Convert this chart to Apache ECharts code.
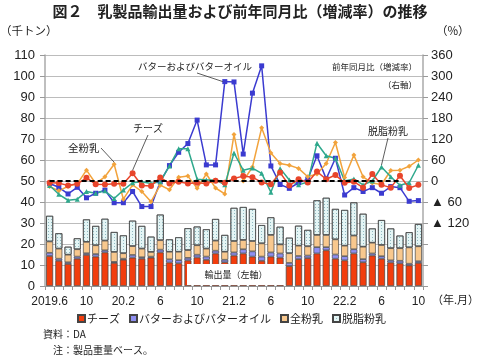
<!DOCTYPE html>
<html><head><meta charset="utf-8">
<script src="https://cdn.jsdelivr.net/npm/echarts@6/dist/echarts.min.js"></script>
<style>html,body{margin:0;padding:0;background:#fff}#c{width:480px;height:356px}</style>
</head><body><div id="c"></div>
<script>
const months = ['2019.6','2019.7','2019.8','2019.9','2019.10','2019.11','2019.12',
'2020.1','2020.2','2020.3','2020.4','2020.5','2020.6','2020.7','2020.8','2020.9','2020.10','2020.11','2020.12',
'2021.1','2021.2','2021.3','2021.4','2021.5','2021.6','2021.7','2021.8','2021.9','2021.10','2021.11','2021.12',
'2022.1','2022.2','2022.3','2022.4','2022.5','2022.6','2022.7','2022.8','2022.9','2022.10'];
const tickLabels = {'2019.6':'2019.6','2019.10':'10','2020.2':'20.2','2020.6':'6','2020.10':'10','2021.2':'21.2','2021.6':'6','2021.10':'10','2022.2':'22.2','2022.6':'6','2022.10':'10'};
const leftTicks = {min:0, max:110, step:10};
const rightTicks = {min:-300, max:360, step:60, shownMin:-120};

// export volume (thousand tons)
const cheeseVol = [14.3,12,10.5,13,14.8,14,16,11,12.5,13.5,13,13.5,16,11.2,10.8,12.2,13.6,12.5,15.5,11.3,14.5,15.5,14,12,14,13.5,9.5,12.8,13.3,15.5,17,13,12.2,15.5,11.3,14.5,13,11.2,10.8,9.8,11];
const butterVol = [1.5,1,0.8,1,0.8,1.2,1,0.5,0.5,1.3,0.7,0.5,1.3,1.5,1.5,1.2,1.3,1.5,1.3,1.2,1.5,2,2.5,2,2,2,1.5,1.5,1.2,3,1.5,2,2,2,1.5,1,1.2,1,1.2,0.8,0.8];
const wmpVol = [5.4,4.8,3.6,3.5,5.4,4.2,4.6,4.7,2.6,4.2,4.1,2.2,4.5,3.6,4,3.7,4.5,3.8,4.8,3.8,5.4,4.4,4.9,6.3,8.3,4.3,4.6,4.9,4.4,5.8,5.8,7.2,5,6.5,5.9,5.1,5.3,5.8,6,7.8,7.1];
const smpVol = [12.2,7.3,3.8,5.2,10.7,9.2,10.4,9.5,8.5,12.1,10.8,7.3,12.2,5.9,6.9,10.4,8.9,9.2,10.3,8,15.8,15.7,15.3,8.7,8.4,8.4,7.4,9.5,7.8,16.5,17.7,14.5,17,15.8,15.7,6.8,11.9,9.4,6,7.2,10.6];

// year-on-year change (%)
const cheeseYoY = [-5,-6,-13,-8,9,-9,-10,-8,-8,22,-13,-14,10,-7,-2,-7,-5,-7,1,-5,7,14,11,-4,-9,24,-13,5,-4,27,5,17,-5,-2,-19,20,-11,-19,15,-20,-11];
const butterYoY = [-7,-18,-37,-18,-48,-35,-26,-62,-62,-30,-73,-73,-2,44,82,107,174,46,46,284,283,77,251,329,43,-10,-21,-5,5,72,6,65,-40,-19,-30,-19,-35,-16,-19,-58,-56];
const wmpYoY = [-16,-28,-15,-8,31,-7,12,48,-52,-11,-30,-59,-12,-25,11,14,-21,20,-20,-37,133,0,40,152,80,50,45,36,12,20,50,110,10,74,12,-6,-10,30,31,42,60];
const smpYoY = [-13,-38,-55,-52,-30,-35,-28,-50,-26,-5,-2,-7,-2,43,92,92,5,3,3,-11,80,31,37,22,-32,36,3,-11,-3,108,72,65,0,6,-11,0,40,12,-12,-5,45];
const zeroLine = {from:'2019.6', to:'2022.8', value:0};

const names = ['チーズ','バターおよびバターオイル','全粉乳','脱脂粉乳'];
const JP = '"Noto Sans CJK JP", sans-serif';
const NUM = '"Liberation Sans", Arial, sans-serif';

const chart = echarts.init(document.getElementById('c'), null, {renderer:'canvas'});
const barBorder = {borderColor:'#444', borderWidth:0.7};
const option = {
  animation:false,
  backgroundColor:'#fff',
  grid:{left:45, right:57, top:55, bottom:70},
  legend:{
    data:names, left:72, top:308, icon:'rect', itemWidth:7, itemHeight:7, itemGap:9,
    textStyle:{fontFamily:JP, fontSize:11, color:'#222', padding:[0,0,0,-3]}
  },
  xAxis:{
    type:'category', data:months, boundaryGap:true,
    axisLine:{lineStyle:{color:'#999', width:1}},
    axisTick:{show:true, interval:0, length:4, lineStyle:{color:'#999'}},
    axisLabel:{interval:0, formatter:v=>tickLabels[v]||'', fontFamily:NUM, fontSize:12, color:'#222', margin:10}
  },
  yAxis:[{
    type:'value', min:leftTicks.min, max:leftTicks.max, interval:leftTicks.step,
    axisLine:{show:true, lineStyle:{color:'#aaa', width:1.5}},
    axisTick:{show:true, length:5, lineStyle:{color:'#999'}},
    splitLine:{lineStyle:{color:'#bcbcbc', width:1}},
    axisLabel:{fontFamily:NUM, fontSize:13, color:'#222', margin:10}
  },{
    type:'value', min:rightTicks.min, max:rightTicks.max, interval:rightTicks.step, position:'right',
    axisLine:{show:true, lineStyle:{color:'#aaa', width:1.5}},
    axisTick:{show:true, length:5, lineStyle:{color:'#999'}},
    splitLine:{show:false},
    axisLabel:{fontFamily:NUM, fontSize:13, color:'#222', margin:8,
      formatter:v=> v < rightTicks.shownMin ? '' : (v<0 ? '▲ '+(-v) : String(v))}
  }],
  series:[
    {name:names[0], type:'bar', stack:'vol', barWidth:7, data:cheeseVol, itemStyle:Object.assign({color:'#f23d0d'},barBorder)},
    {name:names[1], type:'bar', stack:'vol', barWidth:7, data:butterVol, itemStyle:Object.assign({color:'#8f8ff2'},barBorder)},
    {name:names[2], type:'bar', stack:'vol', barWidth:7, data:wmpVol, itemStyle:Object.assign({color:'#f8c88e'},barBorder)},
    {name:names[3], type:'bar', stack:'vol', barWidth:7, data:smpVol, itemStyle:Object.assign({color:'#e4f5f5',
      decal:{symbol:'rect', symbolSize:1, color:'#8fb8c0', dashArrayX:[1,2], dashArrayY:[1,2]}},barBorder)},
    {name:names[1], type:'line', yAxisIndex:1, data:butterYoY, symbol:'rect', symbolSize:5,
      lineStyle:{color:'#3b3bd0', width:1.5}, itemStyle:{color:'#3b3bd0'}, z:5},
    {name:names[2], type:'line', yAxisIndex:1, data:wmpYoY, symbol:'diamond', symbolSize:5,
      lineStyle:{color:'#f2a33c', width:1.5}, itemStyle:{color:'#f2a33c'}, z:5},
    {name:names[3], type:'line', yAxisIndex:1, data:smpYoY, symbol:'triangle', symbolSize:5,
      lineStyle:{color:'#2ea88c', width:1.5}, itemStyle:{color:'#2ea88c'}, z:5},
    {name:names[0], type:'line', yAxisIndex:1, data:cheeseYoY, symbol:'circle', symbolSize:6,
      lineStyle:{color:'#e8452b', width:1.5}, itemStyle:{color:'#e8452b'}, z:6,
      markLine:{silent:true, symbol:['none','none'], label:{show:false}, z:10,
        lineStyle:{color:'#000', width:2, type:[5,3]},
        data:[[{coord:[zeroLine.from, zeroLine.value]},{coord:[zeroLine.to, zeroLine.value]}]]}}
  ]
};
chart.setOption(option);

function px(cat, v){ return chart.convertToPixel({xAxisIndex:0, yAxisIndex:1}, [cat, v]); }
const pB = px('2021.1', butterYoY[19]);
const pC = px('2020.3', cheeseYoY[9]);
const pW = px('2020.1', wmpYoY[7]);
const pS = px('2022.6', smpYoY[36]);
const txt = (x,y,t,fs,extra)=>Object.assign({type:'text', x:x, y:y, z:20, style:Object.assign({text:t, fontFamily:JP, fontSize:fs, fill:'#222', textVerticalAlign:'middle'}, extra||{})});
const ln = (x1,y1,x2,y2)=>({type:'line', z:20, shape:{x1,y1,x2,y2}, style:{stroke:'#333', lineWidth:0.8}});
chart.setOption({graphic:[
  txt(240,11,'図２　乳製品輸出量および前年同月比（増減率）の推移',15,{textAlign:'center', fontWeight:'bold'}),
  txt(0,31,'（千トン）',11.5),
  txt(436,31,'（%）',11.5),
  txt(432,300,'（年.月）',11),
  txt(417,67,'前年同月比（増減率）',8.5,{textAlign:'right'}),
  txt(417,85,'（右軸）',8.5,{textAlign:'right'}),
  {type:'rect', z:19, shape:{x:187,y:264,width:98,height:21}, style:{fill:'#fff'}},
  txt(236,275,'輸出量（左軸）',9,{textAlign:'center'}),
  txt(43,334,'資料：DA',10),
  txt(53,350,'注：製品重量ベース。',10),
  txt(138,66,'バターおよびバターオイル',9.5),
  ln(197,73,pB[0]-2,pB[1]),
  txt(133,128,'チーズ',10),
  ln(148,135,pC[0],pC[1]-3),
  txt(68,148,'全粉乳',10.5),
  ln(101,148,pW[0],pW[1]-2),
  txt(368,131,'脱脂粉乳',10),
  ln(388,138,pS[0],pS[1]-2)
]});
</script></body></html>
